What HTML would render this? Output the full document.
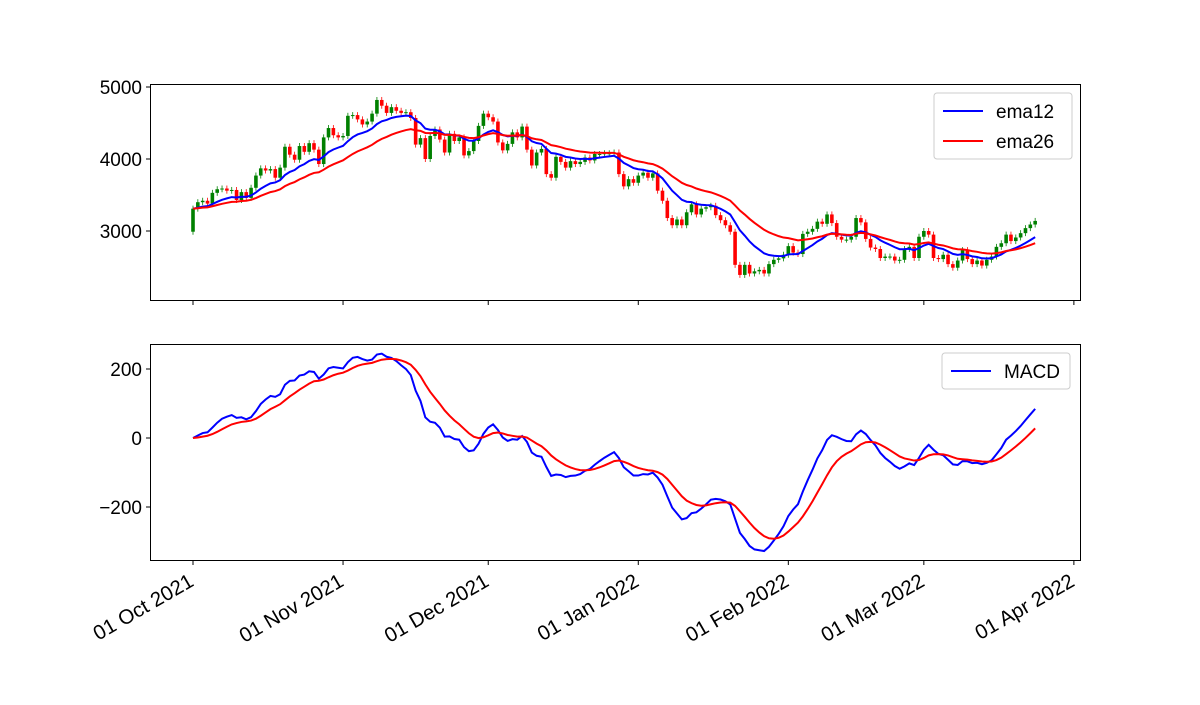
<!DOCTYPE html>
<html><head><meta charset="utf-8"><style>
body{margin:0;background:#fff;}
svg{font-family:"Liberation Sans","DejaVu Sans",sans-serif;}
</style></head><body>
<svg id="chart" width="1200" height="700" xmlns="http://www.w3.org/2000/svg"></svg>
<script>
const closes = [3310,3400,3420,3380,3530,3580,3590,3560,3570,3430,3540,3460,3600,3770,3870,3840,3860,3740,3880,4170,
4060,3990,4180,4100,4220,4130,3930,4300,4430,4330,4300,4320,4600,4610,4550,4480,4520,4630,4820,4740,
4640,4720,4670,4640,4650,4570,4200,4290,4000,4320,4410,4270,4090,4350,4250,4300,4050,4110,4250,4460,
4630,4580,4520,4230,4120,4210,4370,4300,4450,4130,3910,4090,4140,3790,3740,4030,3960,3880,3970,3930,
3960,4020,3980,4070,4070,4080,4080,4090,3790,3620,3720,3670,3770,3810,3740,3800,3560,3420,3180,3080,
3160,3080,3260,3370,3230,3310,3330,3350,3220,3150,3080,2990,2530,2390,2530,2410,2440,2460,2410,2540,
2600,2620,2670,2790,2700,2680,2960,2990,3030,3130,3100,3230,3110,2920,2880,2880,2920,3180,3120,2890,
2770,2750,2625,2645,2645,2590,2600,2750,2780,2625,2920,3000,2950,2625,2610,2670,2540,2490,2590,2735,
2610,2540,2590,2520,2600,2645,2780,2830,2950,2860,2910,2970,3040,3090,3140];
const firstOpen = 2990;
const tickLabels = ["01 Oct 2021","01 Nov 2021","01 Dec 2021","01 Jan 2022","01 Feb 2022","01 Mar 2022","01 Apr 2022"];
const tickDays = [0,31,61,92,123,151,182];
const topTicks = [3000,4000,5000];
const botTicks = [200,0,-200];

const NS="http://www.w3.org/2000/svg";
const svg=document.getElementById('chart');
function mk(tag,attrs,parent){const e=document.createElementNS(NS,tag);for(const k in attrs)e.setAttribute(k,attrs[k]);(parent||svg).appendChild(e);return e;}
const x=d=>193+d*4.84;
const yT=v=>231-(v-3000)*0.072;
const yB=v=>438-v*0.345;

function ema(arr,n){const a=2/(n+1);const out=[];arr.forEach((v,i)=>out.push(i===0?v:a*v+(1-a)*out[i-1]));return out;}
const e12=ema(closes,12), e26=ema(closes,26);
const macd=e12.map((v,i)=>v-e26[i]);
const sig=ema(macd,9);

const topAx=mk('rect',{x:150.5,y:84.5,width:930,height:216,fill:'none',stroke:'#000','stroke-width':1});

const botAx=mk('rect',{x:150.5,y:344.5,width:930,height:216,fill:'none',stroke:'#000','stroke-width':1});


closes.forEach((c,i)=>{
  const o=i===0?firstOpen:closes[i-1];
  const col=c>=o?'green':'red';
  const g=mk('g',{});
  
  
  const hi=Math.max(o,c), lo=Math.min(o,c);
  mk('line',{x1:x(i),x2:x(i),y1:yT(hi)-3,y2:yT(lo)+3,stroke:col,'stroke-width':0.8},g);
  mk('rect',{x:x(i)-1.8,y:yT(hi),width:3.6,height:Math.max(1,yT(lo)-yT(hi)),fill:col},g);
});
function line(arr,yf,col,name){
  const p=mk('polyline',{points:arr.map((v,i)=>x(i)+','+yf(v)).join(' '),fill:'none',stroke:col,'stroke-width':2});
  
}
line(e12,yT,'blue','ema12-line');
line(e26,yT,'red','ema26-line');
line(macd,yB,'blue','macd-line');
line(sig,yB,'red','signal-line');

topTicks.forEach(v=>{
  mk('line',{x1:146,x2:150,y1:yT(v),y2:yT(v),stroke:'#000'});
  const t=mk('text',{x:142,y:yT(v)+7,'text-anchor':'end','font-size':19});t.textContent=v;
  
});
botTicks.forEach(v=>{
  mk('line',{x1:146,x2:150,y1:yB(v),y2:yB(v),stroke:'#000'});
  const t=mk('text',{x:142,y:yB(v)+7,'text-anchor':'end','font-size':19});t.textContent=(v<0?'\u2212'+(-v):v);
  
});
tickDays.forEach((d,k)=>{
  mk('line',{x1:x(d),x2:x(d),y1:560,y2:565,stroke:'#000'});
  mk('line',{x1:x(d),x2:x(d),y1:300,y2:305,stroke:'#000'});
  const ax=x(d)+2, ay=585;
  const t=mk('text',{x:ax,y:ay,'text-anchor':'end','font-size':20.5,transform:`rotate(-30 ${ax} ${ay})`});
  t.textContent=tickLabels[k];
  
});
function legend(x0,y0,w,items,name){
  const g=mk('g',{});
  mk('rect',{x:x0,y:y0,width:w,height:items.length*30+6,rx:3,fill:'#fff',stroke:'#ccc'},g);
  items.forEach((it,k)=>{
    const yy=y0+18+k*30;
    mk('line',{x1:x0+9,x2:x0+49,y1:yy,y2:yy,stroke:it[1],'stroke-width':2},g);
    const t=mk('text',{x:x0+62,y:yy+7,'font-size':19},g);t.textContent=it[0];
  });
}
legend(934,93,138,[['ema12','blue'],['ema26','red']],'price-legend');
legend(942,353,128,[['MACD','blue']],'macd-legend');
</script>
</body></html>
